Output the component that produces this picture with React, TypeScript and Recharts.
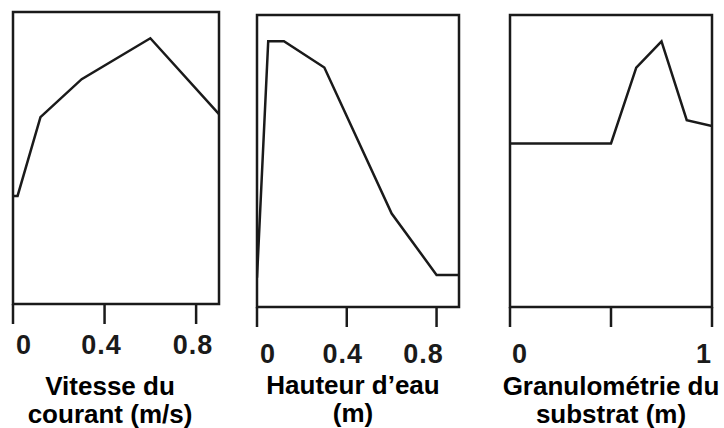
import React from "react";
import {
    LineChart,
    Line,
    XAxis,
    YAxis,
    ReferenceArea,
} from "recharts";

// Vitesse du courant (m/s)
const vitesseX = [0, 0.02, 0.12, 0.3, 0.6, 0.9];
const vitesseY = [37, 37, 64, 77, 91, 65];

// Hauteur d'eau (m)
const hauteurX = [0, 0.05, 0.12, 0.3, 0.6, 0.8, 0.9];
const hauteurY = [10, 91, 91, 82, 32, 11, 11];

// Granulométrie du substrat (m)
const granuloX = [0, 0.5, 0.625, 0.75, 0.875, 1];
const granuloY = [56, 56, 82, 91, 64, 62];

const vitesseTicks = [0, 0.4, 0.8];
const hauteurTicks = [0, 0.4, 0.8];
const granuloTicks = [0, 0.5, 1];
const granuloTickLabels = ["0", "", "1"];

const INK = "#1a1a1a";
const FONT = "'Liberation Sans', Arial, Helvetica, sans-serif";

type Point = { x: number; y: number };

const toPoints = (xs: number[], ys: number[]): Point[] =>
    xs.map((x, i) => ({ x, y: ys[i] }));

type PanelProps = {
    left: number;
    data: Point[];
    xMax: number;
    ticks: number[];
    tickLabels?: string[];
    margin: { top: number; left: number; right: number; bottom: number };
    labelDy: number;
    labelDx: (v: number) => { dx: number; anchor: "start" | "middle" | "end" };
    title: [string, string];
    titleCenter: number;
    titleDy: [number, number];
};

const AXIS_H = 40;
const CHART_W = 240;
const CHART_H = 428;

function Panel({
    left,
    data,
    xMax,
    ticks,
    tickLabels,
    margin,
    labelDy,
    labelDx,
    title,
    titleCenter,
    titleDy,
}: PanelProps) {
    const renderTick = (props: any) => {
        const { x, y, payload, index } = props;
        const text = tickLabels ? tickLabels[index] : String(payload.value);
        if (!text) return <g />;
        const { dx, anchor } = labelDx(payload.value);
        return (
            <text
                x={x + dx}
                y={y + labelDy}
                textAnchor={anchor}
                fontFamily={FONT}
                fontWeight="bold"
                fontSize={27}
                letterSpacing={1}
                fill={INK}
            >
                {text}
            </text>
        );
    };

    // two-line axis title drawn under the tick labels
    const renderTitle = (props: any) => {
        const vb = props.viewBox || {};
        const top = vb.y ?? 0;
        return (
            <g fontFamily={FONT} fontWeight="bold" fontSize={26} fill="#000">
                <text x={titleCenter} y={top + titleDy[0]} textAnchor="middle">
                    {title[0]}
                </text>
                <text x={titleCenter} y={top + titleDy[1]} textAnchor="middle">
                    {title[1]}
                </text>
            </g>
        );
    };

    return (
        <div style={{ position: "absolute", left, top: 0 }}>
            <LineChart width={CHART_W} height={CHART_H} data={data} margin={margin}>
                <XAxis
                    dataKey="x"
                    type="number"
                    domain={[0, xMax]}
                    ticks={ticks}
                    allowDataOverflow
                    height={AXIS_H}
                    axisLine={false}
                    tickSize={20}
                    tickMargin={0}
                    tickLine={{ stroke: INK, strokeWidth: 2.5 }}
                    tick={renderTick}
                    interval={0}
                    label={{ content: renderTitle }}
                />
                <YAxis type="number" domain={[0, 100]} hide />
                <ReferenceArea
                    x1={0}
                    x2={xMax}
                    y1={0}
                    y2={100}
                    fill="none"
                    stroke={INK}
                    strokeWidth={2.5}
                    ifOverflow="visible"
                />
                <Line
                    type="linear"
                    dataKey="y"
                    stroke={INK}
                    strokeWidth={2.5}
                    dot={false}
                    isAnimationActive={false}
                />
            </LineChart>
        </div>
    );
}

export default function App() {
    const edgeLabels = (v: number) =>
        v === 0
            ? { dx: 3, anchor: "start" as const }
            : { dx: -3, anchor: "middle" as const };

    return (
        <div
            style={{
                position: "absolute",
                left: 0,
                top: 0,
                width: 724,
                height: 428,
                background: "#fff",
                overflow: "hidden",
            }}
        >
            <Panel
                left={0}
                data={toPoints(vitesseX, vitesseY)}
                xMax={0.9}
                ticks={vitesseTicks}
                margin={{ top: 12, left: 13, right: 21, bottom: CHART_H - 304 - AXIS_H }}
                labelDy={30}
                labelDx={edgeLabels}
                title={["Vitesse du", "courant (m/s)"]}
                titleCenter={110}
                titleDy={[91, 119]}
            />
            <Panel
                left={240}
                data={toPoints(hauteurX, hauteurY)}
                xMax={0.9}
                ticks={hauteurTicks}
                margin={{ top: 15, left: 17, right: 21, bottom: CHART_H - 307 - AXIS_H }}
                labelDy={36}
                labelDx={(v) =>
                    v === 0
                        ? { dx: 3, anchor: "start" }
                        : v > 0.5
                        ? { dx: -13, anchor: "middle" }
                        : { dx: -4, anchor: "middle" }
                }
                title={["Hauteur d\u2019eau", "(m)"]}
                titleCenter={113}
                titleDy={[87, 115]}
            />
            <Panel
                left={484}
                data={toPoints(granuloX, granuloY)}
                xMax={1}
                ticks={granuloTicks}
                tickLabels={granuloTickLabels}
                margin={{ top: 15, left: 26, right: 12, bottom: CHART_H - 307 - AXIS_H }}
                labelDy={36}
                labelDx={(v) =>
                    v === 0
                        ? { dx: 2, anchor: "start" }
                        : { dx: 0, anchor: "end" }
                }
                title={["Granulom\u00e9trie du", "substrat (m)"]}
                titleCenter={127}
                titleDy={[88, 116]}
            />
        </div>
    );
}
